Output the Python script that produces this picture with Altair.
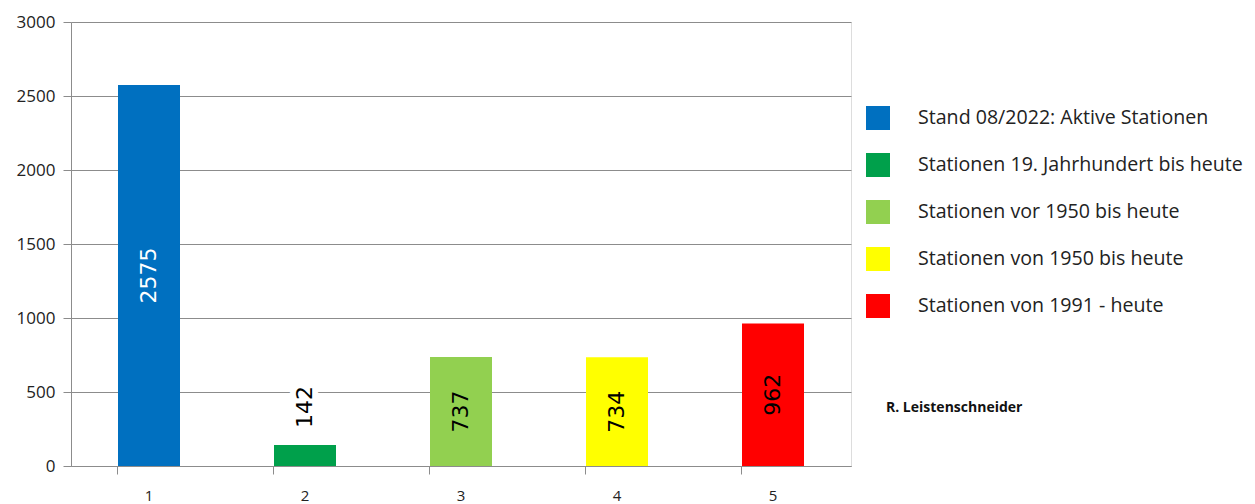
import altair as alt
import pandas as pd

bar_ids = ["1", "2", "3", "4", "5"]
series_names = [
    "Stand 08/2022: Aktive Stationen",
    "Stationen 19. Jahrhundert bis heute",
    "Stationen vor 1950 bis heute",
    "Stationen von 1950 bis heute",
    "Stationen von 1991 - heute",
]
station_counts = [2575, 142, 737, 734, 962]
y_ticks = [0, 500, 1000, 1500, 2000, 2500, 3000]
bar_colors = ["#0070C0", "#00A04B", "#92D050", "#FFFF00", "#FF0000"]
author = "R. Leistenschneider"

df = pd.DataFrame({"id": bar_ids, "name": series_names, "value": station_counts})

W, H = 780, 444

x = alt.X(
    "id:N",
    sort=bar_ids,
    title=None,
    scale=alt.Scale(paddingInner=0.6, paddingOuter=0.3),
    axis=alt.Axis(
        labelAngle=0,
        labelFont="Open Sans",
        labelFontSize=15,
        labelColor="#222222",
        labelPadding=14,
        tickSize=8,
        tickColor="#8c8c8c",
        domainColor="#8c8c8c",
        bandPosition=0,
        grid=False,
    ),
)

y = alt.Y(
    "value:Q",
    title=None,
    scale=alt.Scale(domain=[0, 3000], nice=False),
    axis=alt.Axis(
        values=y_ticks,
        format="d",
        labelFont="Open Sans",
        labelFontSize=17,
        labelColor="#222222",
        labelPadding=8,
        tickSize=8,
        tickColor="#8c8c8c",
        domainColor="#8c8c8c",
        gridColor="#8c8c8c",
        gridWidth=1,
    ),
)

color = alt.Color(
    "name:N",
    sort=series_names,
    scale=alt.Scale(domain=series_names, range=bar_colors),
    legend=alt.Legend(
        title=None,
        orient="none",
        legendX=795,
        legendY=84,
        symbolType="square",
        symbolSize=576,
        symbolStrokeWidth=0,
        symbolOpacity=1,
        rowPadding=23,
        labelOffset=28,
        labelFont="Open Sans",
        labelFontSize=19.6,
        labelColor="#222222",
        labelLimit=400,
    ),
)

base = alt.Chart(df)

bars = base.mark_bar(size=62).encode(x=x, y=y, color=color)

inside = (
    base.transform_filter("datum.value >= 300")
    .transform_calculate(mid="datum.value / 2")
    .mark_text(angle=270, align="center", baseline="middle", font="DejaVu Sans", fontSize=22)
    .encode(
        x=alt.X("id:N", sort=bar_ids),
        y=alt.Y("mid:Q"),
        text=alt.Text("value:Q", format="d"),
        color=alt.condition(
            "datum.value > 2000", alt.value("#ffffff"), alt.value("#000000")
        ),
    )
)

outside_bg = (
    base.transform_filter("datum.value < 300")
    .mark_text(angle=270, align="left", baseline="middle", font="DejaVu Sans", fontSize=22,
               dx=17, stroke="#ffffff", strokeWidth=12, color="#ffffff")
    .encode(x=alt.X("id:N", sort=bar_ids), y=alt.Y("value:Q"), text=alt.Text("value:Q", format="d"))
)

outside = (
    base.transform_filter("datum.value < 300")
    .mark_text(angle=270, align="left", baseline="middle", font="DejaVu Sans", fontSize=22,
               dx=17, color="#000000")
    .encode(x=alt.X("id:N", sort=bar_ids), y=alt.Y("value:Q"), text=alt.Text("value:Q", format="d"))
)

author_text = (
    alt.Chart(pd.DataFrame({"t": [author]}))
    .mark_text(align="left", baseline="middle", font="Open Sans", fontSize=14,
               fontWeight="bold", color="#111111")
    .encode(x=alt.value(815), y=alt.value(386), text="t:N")
)

chart = (
    alt.layer(bars, outside_bg, outside, inside, author_text)
    .properties(width=W, height=H, padding={"left": 8, "top": 5, "right": 0, "bottom": 2})
    .configure_view(stroke=None)
    .configure(background="#ffffff")
)

chart.save("out.html", embed_options={"renderer": "svg", "actions": False})
